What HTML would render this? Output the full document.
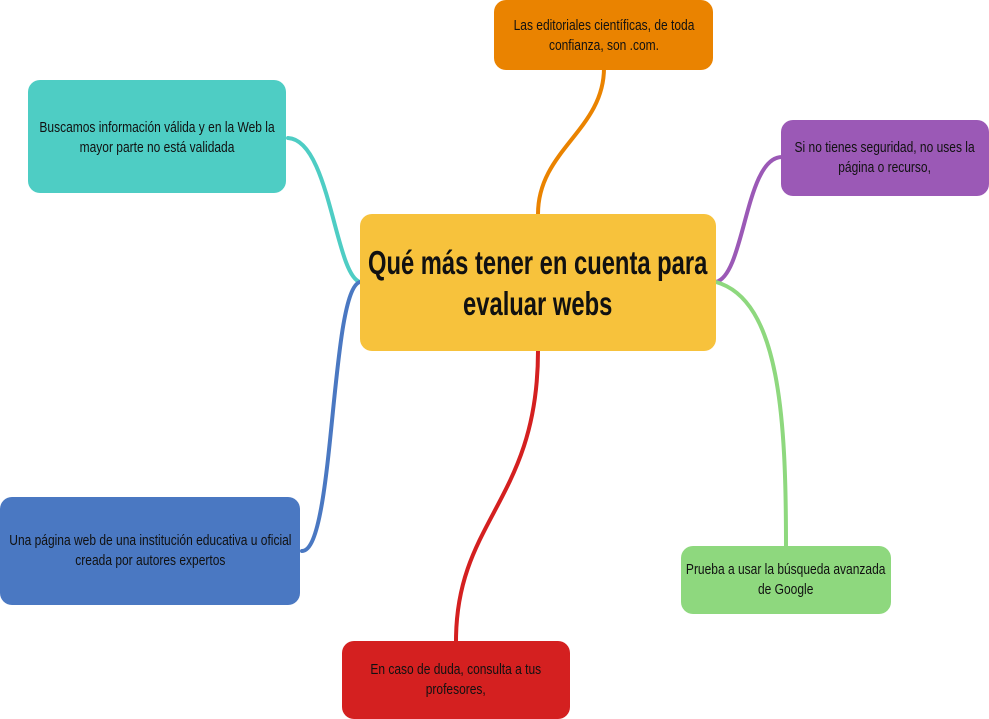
<!DOCTYPE html>
<html><head><meta charset="utf-8"><style>
body{margin:0;width:989px;height:719px;background:#fff;position:relative;overflow:hidden;font-family:"Liberation Sans",sans-serif}
.n{position:absolute;border-radius:12px;display:flex;align-items:center;justify-content:center;text-align:center;color:#111;font-size:15px;line-height:20px}
.n span{display:inline-block;transform:scaleX(.8);white-space:nowrap}
svg{position:absolute;left:0;top:0}
</style></head><body>
<svg width="989" height="719" fill="none" stroke-width="4" stroke-linecap="round">
<path d="M538 214 C538 150 604 130 604 68" stroke="#ea8300"/>
<path d="M360 282 C335 275 330 140 288 138" stroke="#4ecdc4"/>
<path d="M360 282 C330 290 335 551 302 551" stroke="#4a78c2"/>
<path d="M716 282 C745 275 745 157 782 157" stroke="#9b59b6"/>
<path d="M716 282 C780 300 786 420 786 546" stroke="#8ed87e"/>
<path d="M538 351 C538 500 456 520 456 641" stroke="#d42020"/>
</svg>
<div class="n" style="left:360px;top:214px;width:356px;height:137px;background:#f7c23c;font-weight:bold;font-size:33px;line-height:41px"><span style="transform:scaleX(.72)">Qué más tener en cuenta para<br>evaluar webs</span></div>
<div class="n" style="left:494px;top:0;width:219px;height:68px;background:#ea8300;padding-top:2px"><span>Las editoriales científicas, de toda<br>confianza, son .com.</span></div>
<div class="n" style="left:28px;top:80px;width:258px;height:113px;background:#4ecdc4;align-items:flex-start"><span style="margin-top:38px">Buscamos información válida y en la Web la<br>mayor parte no está validada</span></div>
<div class="n" style="left:781px;top:120px;width:208px;height:76px;background:#9b59b6"><span>Si no tienes seguridad, no uses la<br>página o recurso,</span></div>
<div class="n" style="left:0;top:497px;width:300px;height:108px;background:#4a78c2"><span>Una página web de una institución educativa u oficial<br>creada por autores expertos</span></div>
<div class="n" style="left:681px;top:546px;width:210px;height:68px;background:#8ed87e"><span>Prueba a usar la búsqueda avanzada<br>de Google</span></div>
<div class="n" style="left:342px;top:641px;width:228px;height:78px;background:#d42020"><span>En caso de duda, consulta a tus<br>profesores,</span></div>
</body></html>
